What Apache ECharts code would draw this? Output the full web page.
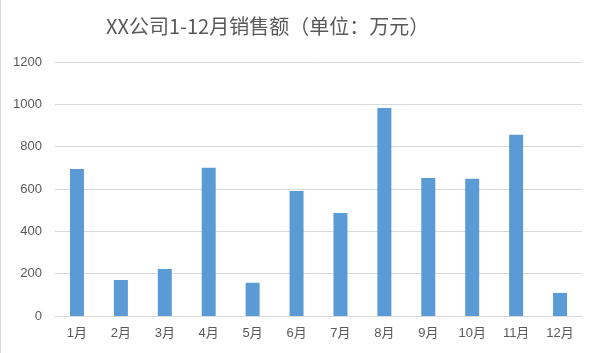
<!DOCTYPE html>
<html lang="zh-CN">
<head>
  <meta charset="UTF-8">
  <title>XX公司1-12月销售额</title>
  <script src="https://cdn.jsdelivr.net/npm/echarts@6/dist/echarts.min.js"></script>
  <style>
    html, body {
      margin: 0;
      padding: 0;
      background: #fff;
    }
    #chart {
      width: 597px;
      height: 353px;
      box-sizing: border-box;
      border-left: 1px solid #d9d9d9;
    }
  </style>
</head>
<body>
  <div id="chart"></div>
  <script>
    // 月份
    var months = ['1月', '2月', '3月', '4月', '5月', '6月', '7月', '8月', '9月', '10月', '11月', '12月'];
    // 销售额（万元）
    var sales = [695, 170, 222, 700, 157, 591, 487, 983, 652, 648, 856, 109];

    var chart = echarts.init(document.getElementById('chart'));
    var fontFamily = "'Liberation Sans', 'Noto Sans CJK SC', sans-serif";

    chart.setOption({
      animation: false,
      title: {
        text: 'XX公司1-12月销售额（单位：万元）',
        left: 100,
        top: 11,
        textStyle: {
          fontFamily: "'Noto Sans CJK SC', sans-serif",
          fontSize: 20,
          fontWeight: 'normal',
          color: '#595959'
        }
      },
      grid: {
        left: 54,
        right: 15,
        top: 62,
        bottom: 37
      },
      xAxis: {
        type: 'category',
        data: months,
        axisTick: { show: false },
        axisLine: { lineStyle: { color: '#d9d9d9', width: 1 } },
        axisLabel: {
          color: '#595959',
          fontSize: 13,
          margin: 11,
          fontFamily: fontFamily
        }
      },
      yAxis: {
        type: 'value',
        min: 0,
        max: 1200,
        interval: 200,
        axisLine: { show: false },
        axisTick: { show: false },
        splitLine: { lineStyle: { color: '#d9d9d9', width: 1 } },
        axisLabel: {
          color: '#595959',
          fontSize: 13,
          margin: 13,
          fontFamily: fontFamily,
          formatter: function (v) { return String(v); }
        }
      },
      series: [{
        type: 'bar',
        data: sales,
        barWidth: 14,
        itemStyle: { color: '#5b9bd5' }
      }]
    });
  </script>
</body>
</html>
